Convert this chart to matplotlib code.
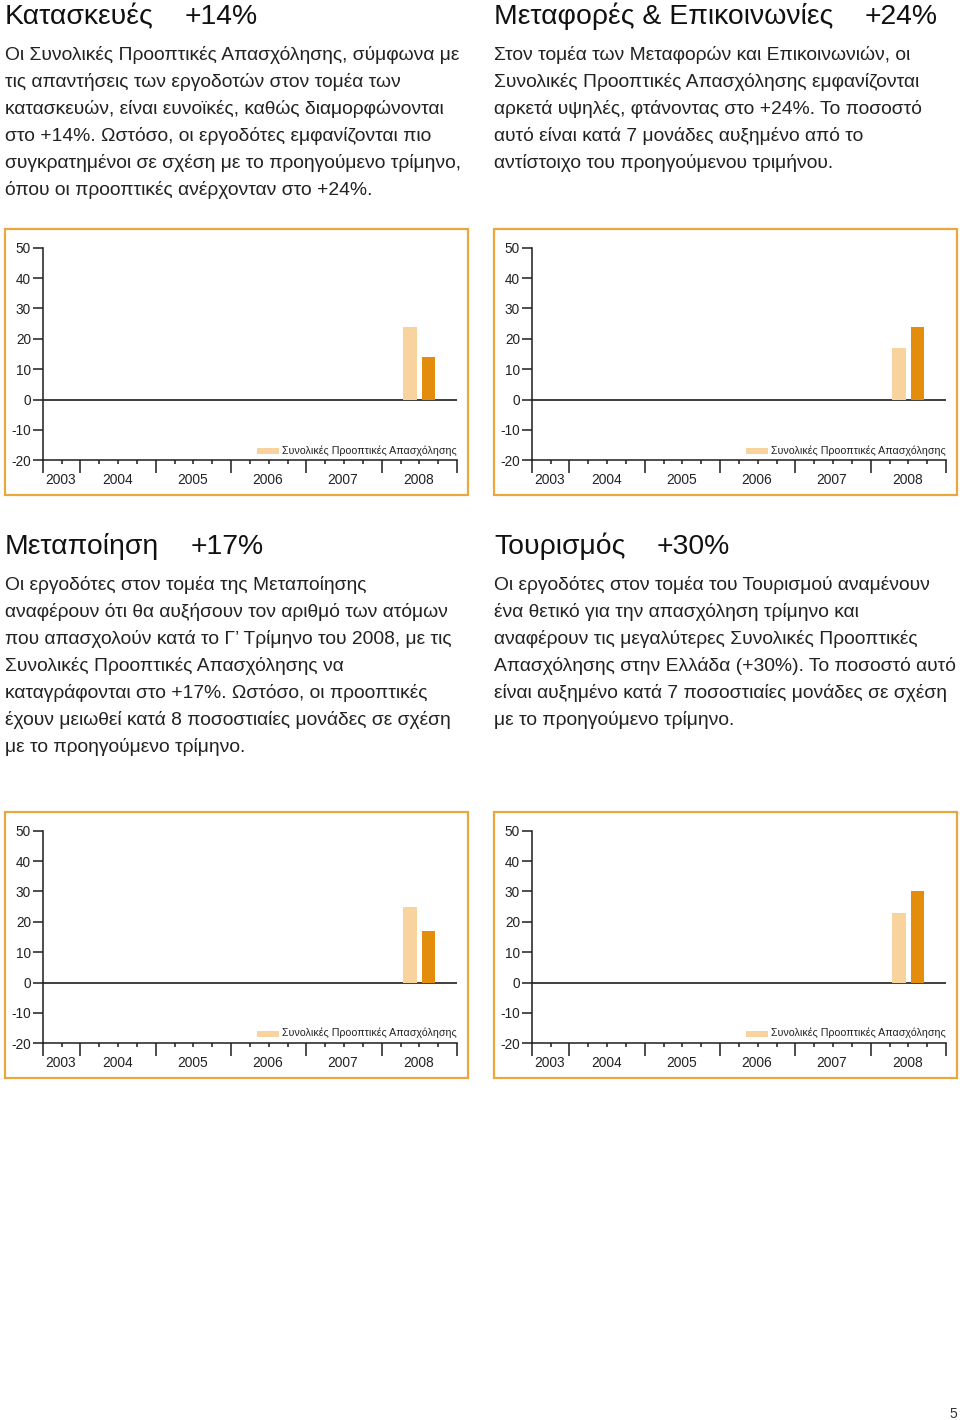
import matplotlib
matplotlib.use("Agg")
import matplotlib.pyplot as plt
from matplotlib.patches import Rectangle

W, H, DPI = 960, 1420, 100
FONT = ["Liberation Sans", "DejaVu Sans"]
plt.rcParams["font.family"] = FONT

# ---------------- data ----------------
quarters = ["2003-Q3", "2003-Q4",
            "2004-Q1", "2004-Q2", "2004-Q3", "2004-Q4",
            "2005-Q1", "2005-Q2", "2005-Q3", "2005-Q4",
            "2006-Q1", "2006-Q2", "2006-Q3", "2006-Q4",
            "2007-Q1", "2007-Q2", "2007-Q3", "2007-Q4",
            "2008-Q1", "2008-Q2", "2008-Q3", "2008-Q4"]
years = ["2003", "2004", "2005", "2006", "2007", "2008"]
bar_quarters = ["2008-Q2", "2008-Q3"]
yticks = [-20, -10, 0, 10, 20, 30, 40, 50]

construction = [24, 14]
transport = [17, 24]
manufacturing = [25, 17]
tourism = [23, 30]

legend_label = "Συνολικές Προοπτικές Απασχόλησης"

titles = ["Κατασκευές", "Μεταφορές & Επικοινωνίες", "Μεταποίηση", "Τουρισμός"]
pcts = ["+14%", "+24%", "+17%", "+30%"]
bodies = [
    ["Οι Συνολικές Προοπτικές Απασχόλησης, σύμφωνα με",
     "τις απαντήσεις των εργοδοτών στον τομέα των",
     "κατασκευών, είναι ευνοϊκές, καθώς διαμορφώνονται",
     "στο +14%. Ωστόσο, οι εργοδότες εμφανίζονται πιο",
     "συγκρατημένοι σε σχέση με το προηγούμενο τρίμηνο,",
     "όπου οι προοπτικές ανέρχονταν στο +24%."],
    ["Στον τομέα των Μεταφορών και Επικοινωνιών, οι",
     "Συνολικές Προοπτικές Απασχόλησης εμφανίζονται",
     "αρκετά υψηλές, φτάνοντας στο +24%. Το ποσοστό",
     "αυτό είναι κατά 7 μονάδες αυξημένο από το",
     "αντίστοιχο του προηγούμενου τριμήνου."],
    ["Οι εργοδότες στον τομέα της Μεταποίησης",
     "αναφέρουν ότι θα αυξήσουν τον αριθμό των ατόμων",
     "που απασχολούν κατά το Γ’ Τρίμηνο του 2008, με τις",
     "Συνολικές Προοπτικές Απασχόλησης να",
     "καταγράφονται στο +17%. Ωστόσο, οι προοπτικές",
     "έχουν μειωθεί κατά 8 ποσοστιαίες μονάδες σε σχέση",
     "με το προηγούμενο τρίμηνο."],
    ["Οι εργοδότες στον τομέα του Τουρισμού αναμένουν",
     "ένα θετικό για την απασχόληση τρίμηνο και",
     "αναφέρουν τις μεγαλύτερες Συνολικές Προοπτικές",
     "Απασχόλησης στην Ελλάδα (+30%). Το ποσοστό αυτό",
     "είναι αυξημένο κατά 7 ποσοστιαίες μονάδες σε σχέση",
     "με το προηγούμενο τρίμηνο."],
]
series = [construction, transport, manufacturing, tourism]

# ---------------- style ----------------
LIGHT = "#F8D39E"
DARK = "#E48D0C"
FRAME = "#E9A73E"
INK = "#1E1E1E"
TEXT = "#222222"

fig = plt.figure(figsize=(W / DPI, H / DPI), dpi=DPI)
fig.patch.set_facecolor("white")
renderer = fig.canvas.get_renderer()


def fy(y):
    return 1 - y / H


def px_axes(x0, y0, x1, y1):
    return fig.add_axes([x0 / W, 1 - y1 / H, (x1 - x0) / W, (y1 - y0) / H])


col_off = [0, 489, 0, 489]
row_text_off = [0, 0, 530, 530]
row_chart_off = [0, 0, 583, 583]

for i in range(4):
    dx, dty, dcy = col_off[i], row_text_off[i], row_chart_off[i]

    # title and percentage
    t = fig.text((5 + dx) / W, fy(24 + dty), titles[i], fontsize=20.4,
                 color="#111111", va="baseline", ha="left")
    bb = t.get_window_extent(renderer)
    fig.text((bb.x1 + 31) / W, fy(24 + dty), pcts[i], fontsize=20.4,
             color="#111111", va="baseline", ha="left")

    # body text
    for k, line in enumerate(bodies[i]):
        fig.text((5 + dx) / W, fy(60 + dty + 27 * k), line, fontsize=13.85,
                 color=TEXT, va="baseline", ha="left")

    # frame
    fx0, fx1, fy0, fy1 = 5 + dx, 467.5 + dx, 229 + dcy, 494.5 + dcy
    fig.add_artist(Rectangle((fx0 / W, fy(fy1)), (fx1 - fx0) / W, (fy1 - fy0) / H,
                             transform=fig.transFigure, fill=False,
                             edgecolor=FRAME, linewidth=1.6))

    # axes
    ax = px_axes(42.7 + dx, 247.7 + dcy, 457 + dx, 460.3 + dcy)
    ax.set_xlim(0, len(quarters))
    ax.set_ylim(-20, 50)
    ax.set_facecolor("none")
    for s in ["top", "right"]:
        ax.spines[s].set_visible(False)
    for s in ["left", "bottom"]:
        ax.spines[s].set_color(INK)
        ax.spines[s].set_linewidth(1.1)

    ax.axhline(0, color=INK, linewidth=1.2, zorder=1)

    vals = series[i]
    xs = [quarters.index(q) + 0.5 for q in bar_quarters]
    ax.bar(xs, vals, width=0.7, color=[LIGHT, DARK], zorder=2)

    # ticks
    ax.set_yticks(yticks)
    ax.set_yticklabels([str(v) for v in yticks])
    ax.tick_params(axis="y", length=7, width=1.1, pad=1.5, labelsize=9.8,
                   colors=INK, labelcolor="#222222")
    major = [0] + [j + 1 for j in range(len(quarters) - 1)
                   if quarters[j][:4] != quarters[j + 1][:4]] + [len(quarters)]
    ax.set_xticks(major)
    ax.set_xticklabels([])
    ax.set_xticks([j for j in range(len(quarters) + 1) if j not in major], minor=True)
    ax.tick_params(axis="x", which="major", length=9.4, width=1.1, colors=INK)
    ax.tick_params(axis="x", which="minor", length=3.2, width=1.1, colors=INK)

    axh = 460.3 - 247.7
    for yr in years:
        idx = [j for j, q in enumerate(quarters) if q.startswith(yr)]
        xc = (idx[0] + idx[-1] + 1) / 2
        ax.text(xc - 0.05, -19.5 / axh, yr, transform=ax.get_xaxis_transform(),
                ha="center", va="center", fontsize=9.9, color="#222222")

    # legend
    lt = fig.text((457 + dx) / W, fy(453.5 + dcy), legend_label, fontsize=7.7,
                  color="#222222", ha="right", va="baseline")
    lb = lt.get_window_extent(renderer)
    fig.add_artist(Rectangle(((lb.x0 - 25) / W, fy(454 + dcy)), 22 / W, 6 / H,
                             transform=fig.transFigure, facecolor=LIGHT,
                             edgecolor="none"))

fig.text(957 / W, fy(1418), "5", fontsize=10, color="#333333",
         ha="right", va="baseline")

fig.savefig("out.png", dpi=DPI, facecolor="white")
